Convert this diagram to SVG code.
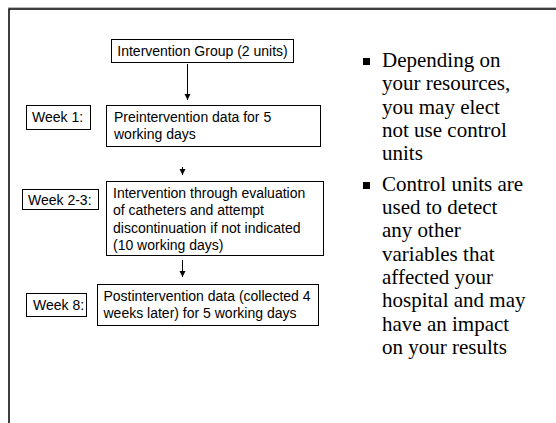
<svg xmlns="http://www.w3.org/2000/svg" width="556" height="423" viewBox="0 0 556 423">
<style>
.box{fill:#fff;stroke:#000;stroke-width:1}
.t{font-family:"Liberation Sans",Arial,sans-serif;font-size:14px;fill:#000}
.b{font-family:"Liberation Serif","Times New Roman",serif;font-size:21px;fill:#000}
.c{stroke:#000;stroke-width:1;fill:none}
</style>
<defs>
<marker id="ah" viewBox="0 0 6 8" refX="6" refY="4" markerWidth="6" markerHeight="8" orient="auto" markerUnits="userSpaceOnUse">
<path d="M0,1 L6,4 L0,7 Z" fill="#000"/>
</marker>
</defs>
<rect width="556" height="423" fill="#fff"/>
<line x1="8" y1="7.5" x2="556" y2="7.5" stroke="#bbb" stroke-width="1"/>
<path d="M556,9 H9 V423" fill="none" stroke="#000" stroke-width="1.5"/>
<g id="group">
<rect class="box" x="111.5" y="39.5" width="182" height="23"/>
<text class="t" x="202.5" y="56" text-anchor="middle">Intervention Group (2 units)</text>
</g>
<g id="week1">
<rect class="box" x="26.5" y="105.5" width="64" height="24"/>
<text class="t" x="32" y="122">Week 1:</text>
</g>
<g id="pre">
<rect class="box" x="106.5" y="105.5" width="214" height="41"/>
<text class="t" x="114" y="122">Preintervention data for 5</text>
<text class="t" x="114" y="139">working days</text>
</g>
<g id="week23">
<rect class="box" x="22.5" y="189.5" width="76" height="20"/>
<text class="t" x="28" y="205">Week 2-3:</text>
</g>
<g id="interv">
<rect class="box" x="106.5" y="181.5" width="217" height="74"/>
<text class="t" x="113" y="198">Intervention through evaluation</text>
<text class="t" x="113" y="215">of catheters and attempt</text>
<text class="t" x="113" y="232.5">discontinuation if not indicated</text>
<text class="t" x="113" y="250">(10 working days)</text>
</g>
<g id="week8">
<rect class="box" x="26.5" y="293.5" width="60" height="23"/>
<text class="t" x="33" y="310">Week 8:</text>
</g>
<g id="post">
<rect class="box" x="97.5" y="284.5" width="221" height="41"/>
<text class="t" x="103.5" y="301">Postintervention data (collected 4</text>
<text class="t" x="103.5" y="318">weeks later) for 5 working days</text>
</g>
<g id="connectors">
<line class="c" x1="187.5" y1="64" x2="187.5" y2="100" marker-end="url(#ah)"/>
<line class="c" x1="182.5" y1="167" x2="182.5" y2="175" marker-end="url(#ah)"/>
<line class="c" x1="182.5" y1="260" x2="182.5" y2="277" marker-end="url(#ah)"/>
</g>
<g id="bullets">
<rect x="363" y="58" width="7" height="7" fill="#000"/>
<text class="b" x="382" y="67">Depending on</text>
<text class="b" x="382" y="90.3">your resources,</text>
<text class="b" x="382" y="113.6">you may elect</text>
<text class="b" x="382" y="136.9">not use control</text>
<text class="b" x="382" y="160.2">units</text>
<rect x="363" y="182" width="7" height="7" fill="#000"/>
<text class="b" x="382" y="190.7">Control units are</text>
<text class="b" x="382" y="214">used to detect</text>
<text class="b" x="382" y="237.3">any other</text>
<text class="b" x="382" y="260.6">variables that</text>
<text class="b" x="382" y="283.9">affected your</text>
<text class="b" x="382" y="307.2">hospital and may</text>
<text class="b" x="382" y="330.5">have an impact</text>
<text class="b" x="382" y="353.8">on your results</text>
</g>
</svg>
